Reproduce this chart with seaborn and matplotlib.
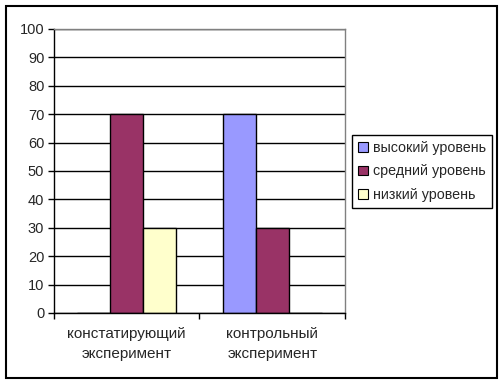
import pandas as pd
import matplotlib.pyplot as plt
import seaborn as sns
from matplotlib.patches import Rectangle

categories = ["констатирующий\nэксперимент", "контрольный\nэксперимент"]
series = ["высокий уровень", "средний уровень", "низкий уровень"]
vysokiy = [0, 70]
sredniy = [70, 30]
nizkiy = [30, 0]
colors = ["#9999FF", "#993366", "#FFFFCC"]

rows = []
for name, vals in zip(series, [vysokiy, sredniy, nizkiy]):
    for c, v in zip(categories, vals):
        rows.append({"cat": c, "series": name, "val": v})
df = pd.DataFrame(rows)

sns.set_style("white")
plt.rcParams['font.family'] = ['Liberation Sans', 'DejaVu Sans']
plt.rcParams['font.size'] = 10

fig = plt.figure(figsize=(5.04, 3.84), dpi=100)
ax = fig.add_axes([54/504, 1-313/384, (345-54)/504, (313-29)/384])

sns.barplot(data=df, x="cat", y="val", hue="series", palette=colors,
            width=0.68, gap=0, edgecolor="black", linewidth=1,
            saturation=1, ax=ax, legend=False, zorder=3)

ax.set_ylim(0, 100)
ax.set_xlim(-0.5, 1.5)
ax.set_yticks(range(0, 101, 10))
ax.yaxis.grid(True, color="black", linewidth=1, zorder=0)
ax.set_axisbelow(True)
ax.set_xlabel("")
ax.set_ylabel("")
ax.tick_params(axis="y", length=4, width=1, color="black", direction="out", left=True, pad=3, labelsize=10.5)
ax.tick_params(axis="x", which="major", length=0, pad=10, labelsize=11)
for lab in ax.get_xticklabels():
    lab.set_linespacing(1.55)
ax.set_xticks([-0.5, 0.5, 1.5], minor=True)
ax.tick_params(axis="x", which="minor", length=4, width=1, color="black", direction="out", bottom=True)
for s in ["top", "right"]:
    ax.spines[s].set_color("#808080")
    ax.spines[s].set_linewidth(1)
for s in ["left", "bottom"]:
    ax.spines[s].set_color("black")
    ax.spines[s].set_linewidth(1)
    ax.spines[s].set_zorder(4)
ax.spines["top"].set_zorder(4)

handles = [Rectangle((0, 0), 1, 1, facecolor=c, edgecolor="black", linewidth=0.8) for c in colors]
leg = fig.legend(handles, series, loc="center left",
                 bbox_to_anchor=(352/504, 1-171.5/384), frameon=True,
                 fancybox=False, framealpha=1, edgecolor="black",
                 handlelength=0.65, handleheight=0.65, handletextpad=0.35,
                 borderpad=0.45, labelspacing=0.65, borderaxespad=0,
                 prop={"size": 10.3})
leg.get_frame().set_linewidth(1)

fig.patches.append(Rectangle((6/504, 6/384), 491/504, 372/384, transform=fig.transFigure,
                             fill=False, edgecolor="black", linewidth=1.5))

fig.savefig("out.png", dpi=100)
